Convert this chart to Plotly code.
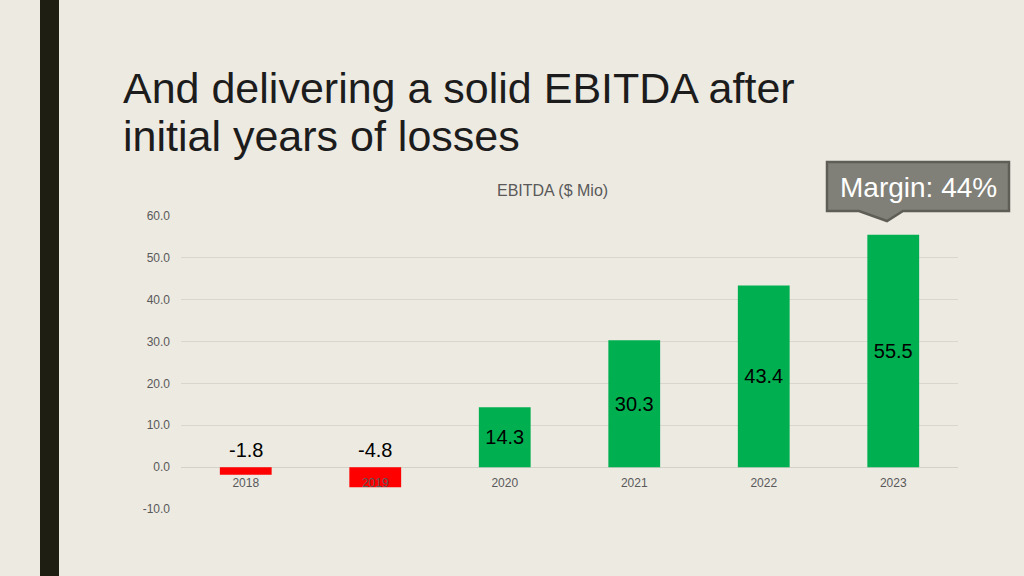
import plotly.graph_objects as go

years = ["2018", "2019", "2020", "2021", "2022", "2023"]
ebitda = [-1.8, -4.8, 14.3, 30.3, 43.4, 55.5]
y_ticks = [-10, 0, 10, 20, 30, 40, 50, 60]
title_lines = ["And delivering a solid EBITDA after", "initial years of losses"]
chart_title = "EBITDA ($ Mio)"
margin_text = "Margin: 44%"

W, H = 1024, 576
L, R, T, B = 181, 958, 216, 509
FONT = "Liberation Sans, Arial"

def px(x):
    return (x - L) / (R - L)

def py(y):
    return (B - y) / (B - T)

colors = ["#FF0000" if v < 0 else "#00B050" for v in ebitda]
pos_text = [f"{v:.1f}" if v >= 0 else "" for v in ebitda]

fig = go.Figure()
fig.add_trace(go.Bar(
    x=years, y=ebitda, marker=dict(color=colors, line=dict(width=0)),
    width=0.4, text=pos_text, textposition="inside", insidetextanchor="middle",
    textangle=0, constraintext="none",
    textfont=dict(family=FONT, size=20, color="#000000"),
    hoverinfo="skip", showlegend=False,
))

annotations = []
for i, v in enumerate(ebitda):
    if v < 0:
        annotations.append(dict(
            x=i, y=0, xref="x", yref="y", text=f"{v:.1f}", showarrow=False,
            xanchor="center", yanchor="bottom", yshift=4,
            font=dict(family=FONT, size=20, color="#000000"),
        ))

for line, yc in zip(title_lines, [88, 136]):
    annotations.append(dict(
        x=px(121), y=py(yc), xref="paper", yref="paper", xanchor="left", yanchor="middle",
        text=line, showarrow=False, align="left",
        font=dict(family=FONT, size=43, color="#1C1C1C"),
    ))
annotations.append(dict(
    x=px(552), y=py(190), xref="paper", yref="paper", text=chart_title, showarrow=False,
    xanchor="center", yanchor="middle",
    font=dict(family=FONT, size=16, color="#595959"),
))
annotations.append(dict(
    x=px(918), y=py(187), xref="paper", yref="paper", text=margin_text, showarrow=False,
    xanchor="center", yanchor="middle",
    font=dict(family=FONT, size=28, color="#FFFFFF"),
))

box_path = (
    f"M {px(827)} {py(162)} L {px(1009)} {py(162)} L {px(1009)} {py(211)} "
    f"L {px(903)} {py(211)} L {px(887)} {py(221)} L {px(859)} {py(211)} "
    f"L {px(827)} {py(211)} Z"
)

shapes = [
    dict(type="rect", xref="paper", yref="paper", x0=px(40), x1=px(59),
         y0=py(-5), y1=py(585), fillcolor="#1E1E12", line=dict(width=0), layer="above"),
    dict(type="path", xref="paper", yref="paper", path=box_path,
         fillcolor="#808078", line=dict(color="#5E5E57", width=2.5)),
]

fig.update_layout(
    width=W, height=H,
    margin=dict(l=L, r=W - R, t=T, b=H - B),
    paper_bgcolor="#EDEAE2", plot_bgcolor="#EDEAE2",
    bargap=0.6,
    xaxis=dict(
        type="category", anchor="free", position=1 / 7,
        showgrid=False, showline=False, ticks="", zeroline=False,
        tickfont=dict(family=FONT, size=12, color="#595959"),
        ticklabelstandoff=7,
    ),
    yaxis=dict(
        range=[-10, 60], tickvals=y_ticks, ticktext=[f"{v:.1f}" for v in y_ticks],
        showgrid=True, gridcolor="#D9D6CE", gridwidth=1,
        zeroline=True, zerolinecolor="#D4D1C9", zerolinewidth=1,
        showline=False, ticks="", ticklabelstandoff=10,
        tickfont=dict(family=FONT, size=12, color="#595959"),
    ),
    annotations=annotations, shapes=shapes,
)

fig.write_html("out.html", config={"displayModeBar": False},
               post_script="document.body.style.margin='0';")
